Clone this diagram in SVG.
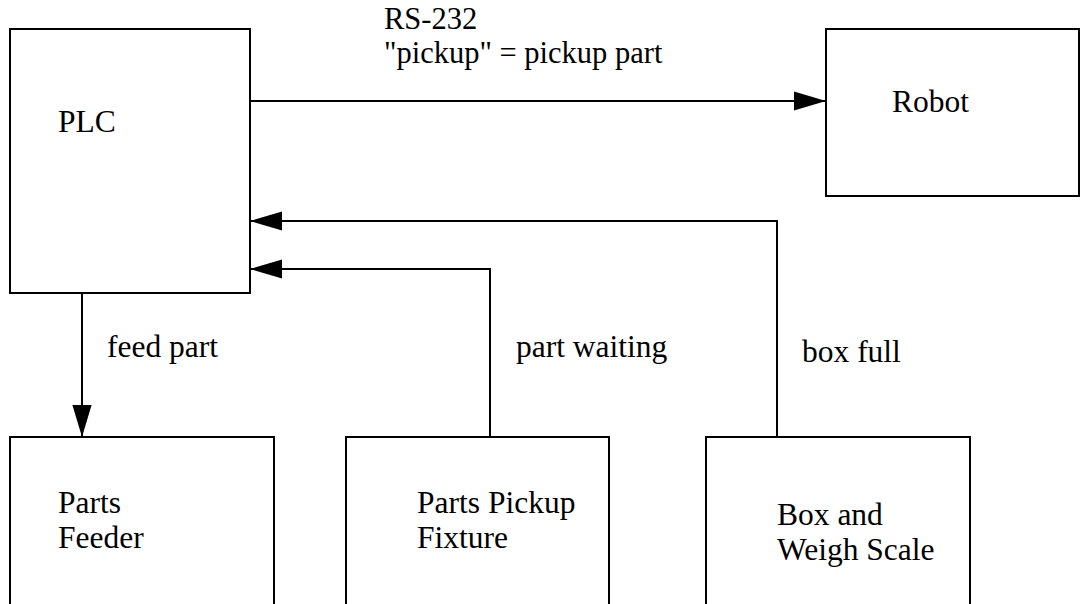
<svg xmlns="http://www.w3.org/2000/svg" width="1081" height="604" viewBox="0 0 1081 604">
<defs>
<style>
.box{fill:#fff;stroke:#000;stroke-width:2}
.ln{fill:none;stroke:#000;stroke-width:2}
text{font-family:"Liberation Serif","Times New Roman",serif;font-size:31.5px;fill:#000}
.top{font-size:30.5px}
</style>
<marker id="ah" markerUnits="userSpaceOnUse" markerWidth="32" markerHeight="20" viewBox="0 0 30 18" refX="30" refY="9" orient="auto">
<path d="M0,0 L30,9 L0,18 Z" fill="#000"/>
</marker>
</defs>
<rect width="1081" height="604" fill="#fff"/>
<g id="plc"><rect class="box" x="10" y="29" width="240" height="264"/><text x="58" y="132">PLC</text></g>
<g id="robot"><rect class="box" x="826" y="29" width="253" height="167"/><text x="892" y="112">Robot</text></g>
<g id="feeder"><rect class="box" x="10" y="437" width="264" height="180"/><text x="58" y="513">Parts<tspan x="58" dy="35">Feeder</tspan></text></g>
<g id="fixture"><rect class="box" x="346" y="437" width="263" height="180"/><text x="417" y="513">Parts Pickup<tspan x="417" dy="35">Fixture</tspan></text></g>
<g id="scale"><rect class="box" x="706" y="437" width="264" height="180"/><text x="777" y="525">Box and<tspan x="777" dy="35">Weigh Scale</tspan></text></g>
<g id="connectors">
<line class="ln" x1="250" y1="101" x2="826" y2="101" marker-end="url(#ah)"/>
<text class="top" x="384" y="29">RS-232</text>
<text class="top" x="384" y="63">"pickup" = pickup part</text>
<line class="ln" x1="82" y1="293" x2="82" y2="437" marker-end="url(#ah)"/>
<text x="107" y="357">feed part</text>
<polyline class="ln" points="490,437 490,269 250,269" marker-end="url(#ah)"/>
<text x="516" y="357">part waiting</text>
<polyline class="ln" points="777,437 777,221 250,221" marker-end="url(#ah)"/>
<text x="802" y="362">box full</text>
</g>
</svg>
